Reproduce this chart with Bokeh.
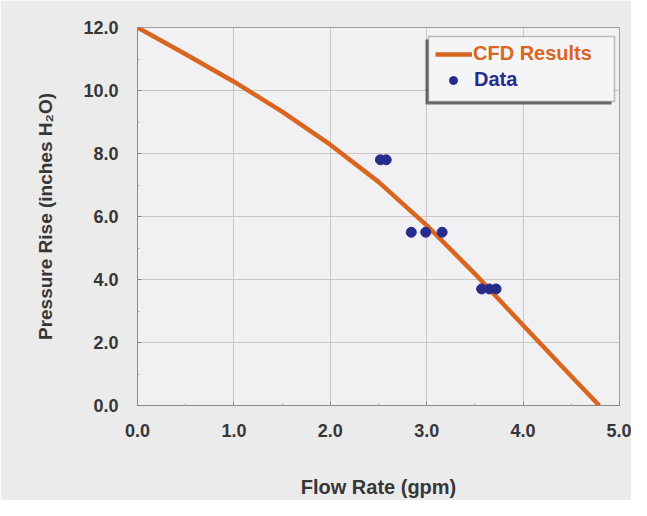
from bokeh.plotting import figure
from bokeh.models import Legend, LegendItem, BoxAnnotation, FixedTicker, NumeralTickFormatter, Range1d
from bokeh.embed import file_html
from bokeh.resources import INLINE

# CFD curve
cfd_flow = [0.0, 0.5, 1.0, 1.5, 2.0, 2.5, 3.0, 3.5, 4.0, 4.5, 4.79]
cfd_pressure = [12.0, 11.15, 10.28, 9.33, 8.28, 7.1, 5.72, 4.18, 2.55, 0.93, 0.0]

# Measured data
data_flow = [2.52, 2.58, 2.84, 2.99, 3.16, 3.57, 3.65, 3.72]
data_pressure = [7.8, 7.8, 5.5, 5.5, 5.5, 3.7, 3.7, 3.7]

x_ticks = [0, 1, 2, 3, 4, 5]
y_ticks = [0, 2, 4, 6, 8, 10, 12]

FONT = "Liberation Sans"
TXT = "#363636"
ORANGE = "#d9651f"
NAVY = "#272c8c"

p = figure(width=631, height=500, output_backend="svg", toolbar_location=None,
           x_range=Range1d(0, 5), y_range=Range1d(0, 12),
           min_border_left=137, min_border_right=12, min_border_top=27, min_border_bottom=88)

p.border_fill_color = "#ebebeb"
p.background_fill_color = "#f1f1f3"
p.outline_line_color = "#a39c9e"
p.outline_line_width = 1

p.xaxis.ticker = FixedTicker(ticks=x_ticks, minor_ticks=[0.5, 1.5, 2.5, 3.5, 4.5])
p.yaxis.ticker = FixedTicker(ticks=y_ticks, minor_ticks=[1, 3, 5, 7, 9, 11])
p.xaxis.formatter = NumeralTickFormatter(format="0.0")
p.yaxis.formatter = NumeralTickFormatter(format="0.0")

for ax in (p.xaxis, p.yaxis):
    ax.axis_line_color = "#8f8486"
    ax.major_tick_line_color = "#8f8486"
    ax.minor_tick_line_color = "#b0a8aa"
    ax.major_tick_in = 4
    ax.major_tick_out = 0
    ax.minor_tick_in = 2
    ax.minor_tick_out = 0
    ax.major_label_text_font = FONT
    ax.major_label_text_font_style = "bold"
    ax.major_label_text_font_size = "18px"
    ax.major_label_text_color = TXT
    ax.axis_label_text_font = FONT
    ax.axis_label_text_font_style = "bold"
    ax.axis_label_text_color = TXT

p.xaxis.axis_label_text_font_size = "20px"
p.yaxis.axis_label_text_font_size = "19px"
p.xaxis.axis_label = "Flow Rate (gpm)"
p.yaxis.axis_label = "Pressure Rise (inches H\u2082O)"
p.xaxis.major_label_standoff = 18
p.yaxis.major_label_standoff = 19
p.xaxis.axis_label_standoff = 36
p.yaxis.axis_label_standoff = 24

p.xgrid.grid_line_color = "#cac5c7"
p.ygrid.grid_line_color = "#cac5c7"
p.xgrid.grid_line_width = 1
p.ygrid.grid_line_width = 1

line = p.line(cfd_flow, cfd_pressure, line_color=ORANGE, line_width=4.5, line_join="round")
pts = p.scatter(data_flow, data_pressure, size=10, fill_color=NAVY, line_color=NAVY)

# legend box (frame-relative screen units) with shadow
shadow = BoxAnnotation(left=288, right=474, top=366, bottom=301,
                       left_units="screen", right_units="screen",
                       top_units="screen", bottom_units="screen",
                       fill_color="#4a4a4a", fill_alpha=0.8, line_color=None)
box = BoxAnnotation(left=291, right=477, top=369, bottom=304,
                    left_units="screen", right_units="screen",
                    top_units="screen", bottom_units="screen",
                    fill_color="#f5f5f7", fill_alpha=1.0,
                    line_color="#3c3c3c", line_width=1.5)
p.add_layout(shadow)
p.add_layout(box)

leg1 = Legend(items=[LegendItem(label="CFD Results", renderers=[line])],
              location=(298, 340), padding=0, margin=0, spacing=0,
              glyph_width=37, glyph_height=20, label_height=20, label_standoff=1,
              border_line_color=None, background_fill_alpha=0,
              label_text_font=FONT, label_text_font_style="bold",
              label_text_font_size="20px", label_text_color=ORANGE)
leg2 = Legend(items=[LegendItem(label="Data", renderers=[pts])],
              location=(306, 314), padding=0, margin=0, spacing=0,
              glyph_width=20, glyph_height=20, label_height=20, label_standoff=11,
              border_line_color=None, background_fill_alpha=0,
              label_text_font=FONT, label_text_font_style="bold",
              label_text_font_size="20px", label_text_color=NAVY)
p.add_layout(leg1)
p.add_layout(leg2)

open("out.html", "w").write(file_html(p, INLINE))
